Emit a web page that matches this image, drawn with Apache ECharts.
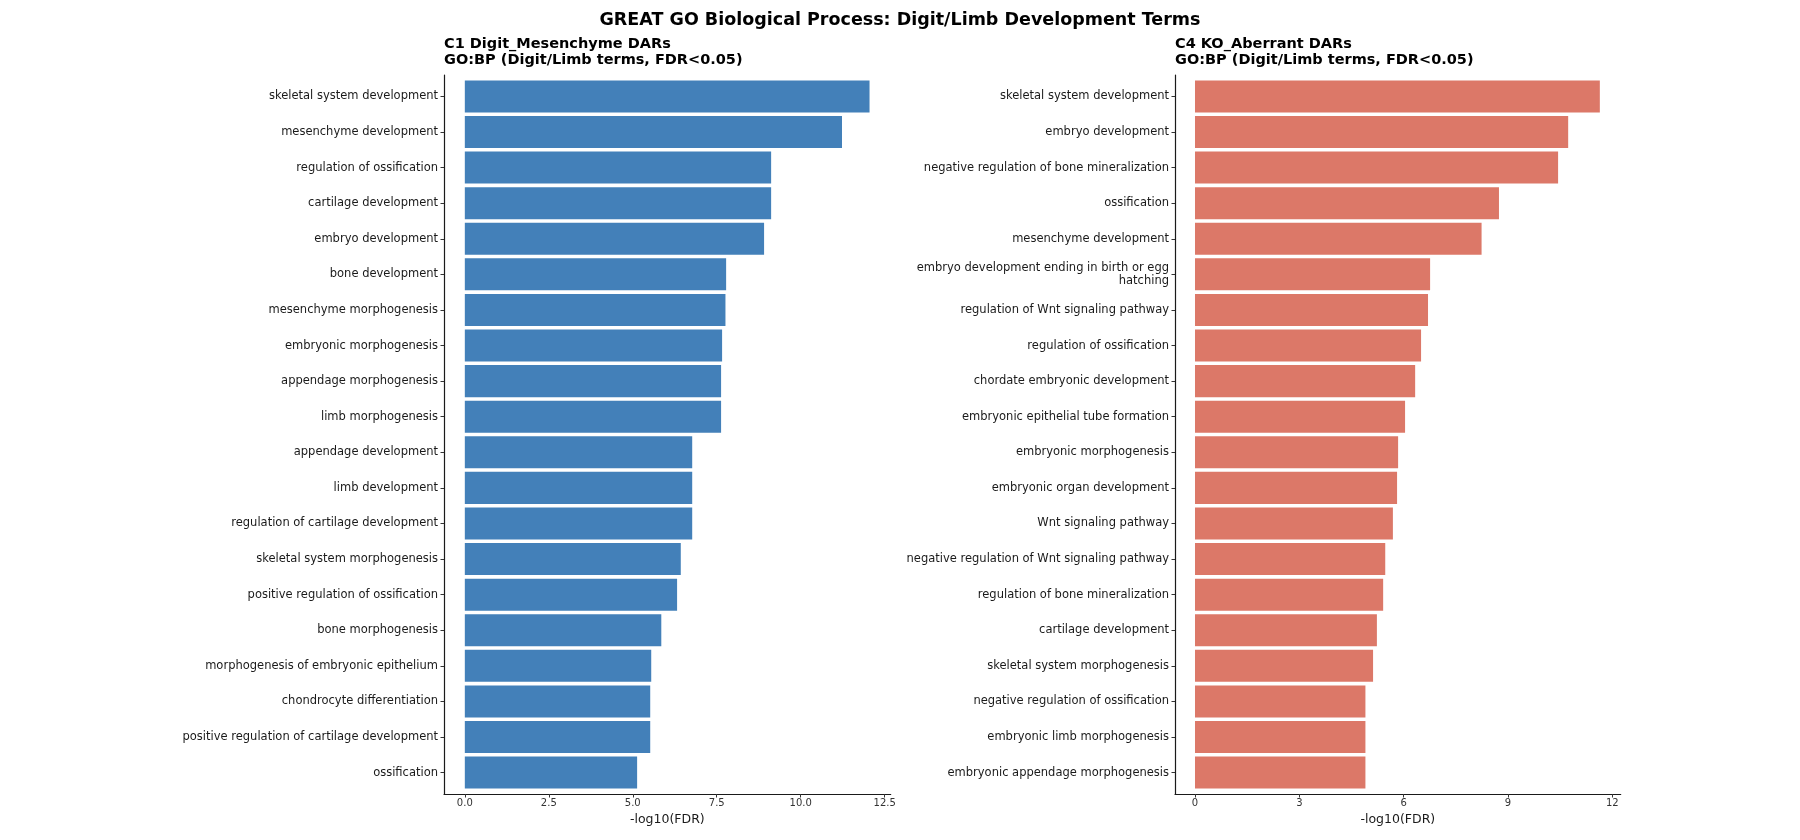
<!DOCTYPE html>
<html>
<head>
<meta charset="utf-8">
<script src="https://cdn.jsdelivr.net/npm/echarts@6/dist/echarts.min.js"></script>
<style>
html,body{margin:0;padding:0;background:#fff;}
#chart{width:1800px;height:840px;}
</style>
</head>
<body>
<div id="chart"></div>
<script>
const mainTitle = "GREAT GO Biological Process: Digit/Limb Development Terms";
const leftTitle = "C1 Digit_Mesenchyme DARs\nGO:BP (Digit/Limb terms, FDR<0.05)";
const rightTitle = "C4 KO_Aberrant DARs\nGO:BP (Digit/Limb terms, FDR<0.05)";
const xName = "-log10(FDR)";

const leftTerms = [
  "skeletal system development",
  "mesenchyme development",
  "regulation of ossification",
  "cartilage development",
  "embryo development",
  "bone development",
  "mesenchyme morphogenesis",
  "embryonic morphogenesis",
  "appendage morphogenesis",
  "limb morphogenesis",
  "appendage development",
  "limb development",
  "regulation of cartilage development",
  "skeletal system morphogenesis",
  "positive regulation of ossification",
  "bone morphogenesis",
  "morphogenesis of embryonic epithelium",
  "chondrocyte differentiation",
  "positive regulation of cartilage development",
  "ossification"
];
const leftValues = [12.05, 11.23, 9.12, 9.12, 8.91, 7.78, 7.76, 7.66, 7.63, 7.63,
                    6.77, 6.77, 6.77, 6.43, 6.32, 5.85, 5.55, 5.52, 5.52, 5.13];

const rightTerms = [
  "skeletal system development",
  "embryo development",
  "negative regulation of bone mineralization",
  "ossification",
  "mesenchyme development",
  "embryo development ending in birth or egg hatching",
  "regulation of Wnt signaling pathway",
  "regulation of ossification",
  "chordate embryonic development",
  "embryonic epithelial tube formation",
  "embryonic morphogenesis",
  "embryonic organ development",
  "Wnt signaling pathway",
  "negative regulation of Wnt signaling pathway",
  "regulation of bone mineralization",
  "cartilage development",
  "skeletal system morphogenesis",
  "negative regulation of ossification",
  "embryonic limb morphogenesis",
  "embryonic appendage morphogenesis"
];
const rightValues = [11.64, 10.73, 10.44, 8.74, 8.24, 6.76, 6.70, 6.50, 6.33, 6.04,
                     5.84, 5.81, 5.69, 5.47, 5.41, 5.23, 5.12, 4.90, 4.90, 4.90];

const leftTicks = [0, 2.5, 5, 7.5, 10, 12.5];
const rightTicks = [0, 3, 6, 9, 12];

const FONT = "DejaVu Sans";
const blue = "#4380B9";
const salmon = "#DC7868";
const LEFT_RANGE = [-0.62, 12.68];
const RIGHT_RANGE = [-0.575, 12.24];

function wrapLabel(s) {
  if (s.length <= 46) return s;
  const cut = s.lastIndexOf(" ", 42);
  return s.slice(0, cut) + "\n" + s.slice(cut + 1);
}

// scale-only x axis for the bar grid (hidden)
function xScaleAxis(gridIndex, range) {
  return {type: "value", gridIndex: gridIndex, min: range[0], max: range[1], show: false,
          splitLine: {show: false}};
}
// visible x axis on the frame grid
function xFrameAxis(gridIndex, range, ticks, fmt) {
  return {
    type: "value", gridIndex: gridIndex, min: range[0], max: range[1],
    name: xName, nameLocation: "middle", nameGap: 17,
    nameTextStyle: {fontFamily: FONT, fontSize: 12.5, color: "#1a1a1a"},
    axisLine: {show: true, onZero: false, lineStyle: {color: "#1a1a1a", width: 1.2}},
    axisTick: {show: true, length: 3.5, customValues: ticks, lineStyle: {color: "#333", width: 1}},
    axisLabel: {show: true, customValues: ticks, margin: 4, fontFamily: FONT, fontSize: 10, color: "#333", formatter: fmt},
    splitLine: {show: false}
  };
}
function yCatAxis(gridIndex, terms) {
  return {
    type: "category", gridIndex: gridIndex, data: terms, inverse: true,
    axisLine: {show: false, onZero: false},
    axisTick: {show: true, alignWithLabel: true, length: 3.5, lineStyle: {color: "#333"}},
    axisLabel: {margin: 6, fontFamily: FONT, fontSize: 11.5, color: "#1a1a1a", lineHeight: 13,
                align: "right", formatter: wrapLabel, interval: 0},
    splitLine: {show: false}
  };
}
function yFrameAxis(gridIndex) {
  return {
    type: "value", gridIndex: gridIndex, min: 0, max: 1,
    axisLine: {show: true, onZero: false, lineStyle: {color: "#1a1a1a", width: 1.2}},
    axisTick: {show: false}, axisLabel: {show: false}, splitLine: {show: false}
  };
}

const chart = echarts.init(document.getElementById("chart"), null, {renderer: "canvas"});
chart.setOption({
  backgroundColor: "#fff",
  animation: false,
  title: [
    {text: mainTitle, left: "center", top: 6,
     textStyle: {fontFamily: FONT, fontWeight: "bold", fontSize: 17.5, color: "#000"}},
    {text: leftTitle, left: 444, top: 36, padding: 0,
     textStyle: {fontFamily: FONT, fontWeight: "bold", fontSize: 14.5, lineHeight: 16, color: "#000"}},
    {text: rightTitle, left: 1175, top: 36, padding: 0,
     textStyle: {fontFamily: FONT, fontWeight: "bold", fontSize: 14.5, lineHeight: 16, color: "#000"}}
  ],
  grid: [
    {left: 444, width: 446.7, top: 78.6, height: 711.8},
    {left: 1175, width: 445.7, top: 78.6, height: 711.8},
    {left: 444, width: 446.7, top: 75, height: 719},
    {left: 1175, width: 445.7, top: 75, height: 719}
  ],
  xAxis: [
    xScaleAxis(0, LEFT_RANGE),
    xScaleAxis(1, RIGHT_RANGE),
    xFrameAxis(2, LEFT_RANGE, leftTicks, v => v.toFixed(1)),
    xFrameAxis(3, RIGHT_RANGE, rightTicks, v => String(v))
  ],
  yAxis: [
    yCatAxis(0, leftTerms),
    yCatAxis(1, rightTerms),
    yFrameAxis(2),
    yFrameAxis(3)
  ],
  series: [
    {type: "bar", xAxisIndex: 0, yAxisIndex: 0, data: leftValues, barWidth: "90%",
     itemStyle: {color: blue}},
    {type: "bar", xAxisIndex: 1, yAxisIndex: 1, data: rightValues, barWidth: "90%",
     itemStyle: {color: salmon}}
  ]
});
</script>
</body>
</html>
